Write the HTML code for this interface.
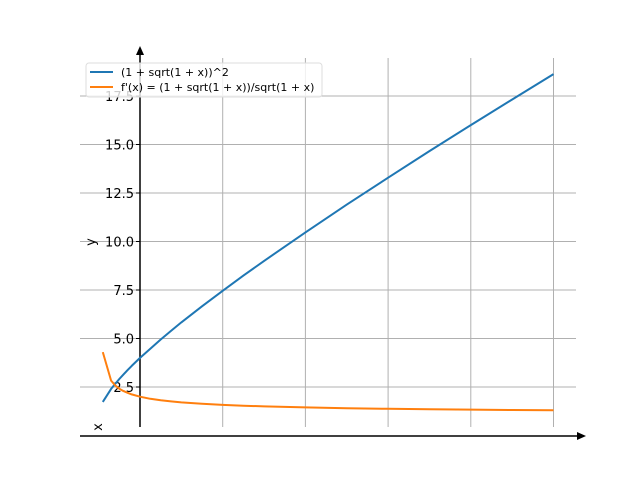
<!DOCTYPE html>
<html><head><meta charset="utf-8"><style>body{margin:0;background:#fff}svg{display:block;font-family:"DejaVu Sans","Liberation Sans",sans-serif}</style></head>
<body>
<svg id="chart" width="640" height="480" xmlns="http://www.w3.org/2000/svg"></svg>
<script>
const xValues=[-0.9,-0.7,-0.6,-0.5,-0.4,-0.3,-0.2,0,0.25,0.5,0.75,1,1.5,2,2.5,3,4,5,6,7,8,9,10];
const fValues=[1.73,2.40,2.66,2.91,3.15,3.37,3.59,4,4.47,4.95,5.39,5.83,6.66,7.46,8.24,9,10.47,11.90,13.29,14.66,16,17.32,18.63];
const dValues=[4.3,2.83,2.58,2.41,2.29,2.20,2.12,2,1.894,1.816,1.756,1.707,1.632,1.577,1.535,1.5,1.447,1.408,1.378,1.354,1.333,1.316,1.302];
const xTicks=[2,4,6,8,10];
const yTicks=[2.5,5.0,7.5,10.0,12.5,15.0,17.5];
const yTickLabels=["2.5","5.0","7.5","10.0","12.5","15.0","17.5"];
const NS="http://www.w3.org/2000/svg",svg=document.getElementById('chart');
const sx=x=>140+x*41.35, sy=y=>435.5-y*19.4;
function mk(t,a,p){const e=document.createElementNS(NS,t);for(const k in a)e.setAttribute(k,a[k]);(p||svg).appendChild(e);return e;}
xTicks.forEach(t=>{const l=mk('line',{x1:sx(t),x2:sx(t),y1:58,y2:427,stroke:'#b0b0b0','stroke-width':1});

});
yTicks.forEach((t,i)=>{const l=mk('line',{x1:80,x2:576,y1:sy(t),y2:sy(t),stroke:'#b0b0b0','stroke-width':1});


const k=mk('line',{x1:136,x2:140,y1:sy(t),y2:sy(t),stroke:'#000'});


const tx=mk('text',{x:134,y:sy(t)+5,'text-anchor':'end','font-size':13,fill:'#000'});tx.textContent=yTickLabels[i];

});
const ya=mk('line',{x1:140,x2:140,y1:427,y2:52,stroke:'#000','stroke-width':1.5});


const yh=mk('path',{d:'M136,55 L140,46 L144,55 Z',fill:'#000'});


const xa=mk('line',{x1:80,x2:580,y1:436,y2:436,stroke:'#000','stroke-width':1.5});


const xh=mk('path',{d:'M577,432 L586,436 L577,440 Z',fill:'#000'});


function series(vals,col,name){const d=vals.map((v,i)=>(i?'L':'M')+sx(xValues[i]).toFixed(1)+','+sy(v).toFixed(1)).join(' ');
const p=mk('path',{d:d,fill:'none',stroke:col,'stroke-width':2,'stroke-linejoin':'round'});

}
series(fValues,'#1f77b4','f-line');
series(dValues,'#ff7f0e','derivative-line');
const yl=mk('text',{x:0,y:0,'font-size':13,transform:'translate(95,242) rotate(-90)','text-anchor':'middle'});yl.textContent='y';


const xl=mk('text',{x:0,y:0,'font-size':13,transform:'translate(102,427) rotate(-90)','text-anchor':'middle'});xl.textContent='x';


const lg=mk('g',{});


mk('rect',{x:86,y:63,width:236,height:34,rx:3,fill:'#fff','fill-opacity':0.8,stroke:'#ddd'},lg);
[['#1f77b4','(1 + sqrt(1 + x))^2',72],['#ff7f0e',"f'(x) = (1 + sqrt(1 + x))/sqrt(1 + x)",87]].forEach(e=>{
mk('line',{x1:90,x2:113,y1:e[2],y2:e[2],stroke:e[0],'stroke-width':2},lg);
const t=mk('text',{x:121,y:e[2]+4,'font-size':11,fill:'#000'},lg);t.textContent=e[1];

});
</script>
</body></html>
